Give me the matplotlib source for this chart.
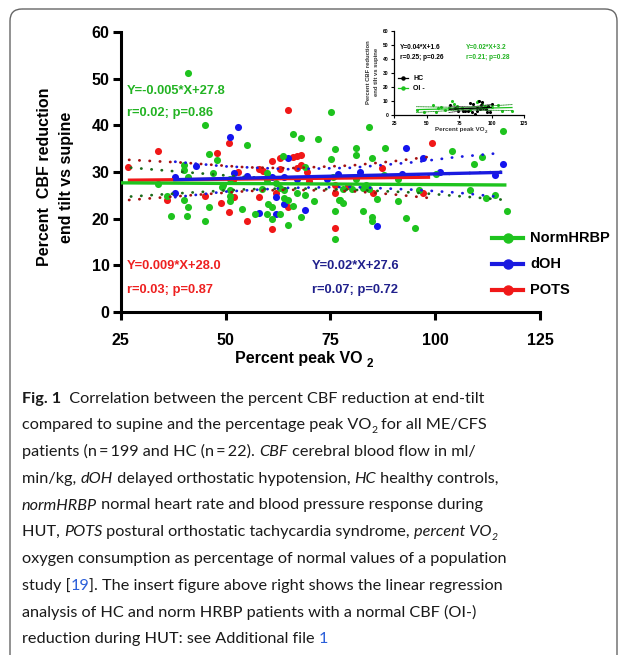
import matplotlib
matplotlib.use('Agg')
import matplotlib.pyplot as plt
from matplotlib.patches import FancyBboxPatch
from matplotlib.font_manager import FontProperties, findfont

W, H = 627, 655
CHART_FONT = 'Liberation Sans'

# caption font: a narrow sans is closest to the journal face
try:
    findfont(FontProperties(family='Liberation Sans Narrow'), fallback_to_default=False)
    CAP_FONT = 'Liberation Sans Narrow'
except Exception:
    CAP_FONT = 'Lato'

# NormHRBP patients (green)
norm_x = [41.0, 45.0, 55.1, 46.0, 48.0, 40.0, 66.0, 68.1, 72.0, 75.1, 84.1, 76.1,
          81.1, 81.1, 75.1, 85.0, 88.1, 63.8, 69.0, 116.2, 104.1, 109.2, 111.2, 100.2,
          91.1, 96.2, 108.2, 112.2, 114.2, 91.1, 117.2, 93.1, 95.1, 75.6, 78.0, 77.3,
          78.1, 82.9, 84.1, 86.2, 82.9, 85.0, 85.0, 76.1, 76.1, 33.8, 36.9, 40.0,
          41.0, 40.0, 41.0, 40.9, 45.0, 46.0, 47.0, 49.1, 51.1, 51.1, 51.0, 51.1,
          54.0, 57.0, 49.5, 36.0, 58.8, 59.8, 59.8, 60.2, 61.0, 61.0, 63.0, 65.0,
          65.0, 66.0, 67.0, 69.0, 68.0, 71.0, 77.0, 80.1, 87.9, 62.0, 63.0, 64.0,
          64.0, 59.8, 81.2, 83.5]
norm_y = [51.3, 40.0, 35.8, 33.8, 32.6, 31.6, 38.2, 37.3, 37.1, 42.9, 39.6, 34.9,
          35.1, 33.7, 32.7, 32.9, 35.1, 33.4, 31.1, 38.7, 34.5, 31.8, 33.3, 29.6,
          28.6, 26.2, 26.1, 24.4, 25.1, 23.8, 21.6, 20.2, 17.9, 29.0, 26.4, 24.1,
          23.3, 26.5, 26.3, 24.2, 21.7, 20.3, 19.6, 21.7, 15.7, 27.4, 20.6, 30.4,
          28.9, 23.9, 22.6, 20.6, 19.4, 22.6, 29.7, 26.8, 24.9, 23.8, 26.1, 28.6,
          22.0, 21.0, 27.2, 24.9, 26.3, 29.7, 28.3, 23.1, 19.9, 22.6, 21.1, 18.6,
          24.0, 22.7, 25.4, 25.1, 20.4, 23.8, 24.0, 26.3, 29.4, 27.7, 26.5, 26.1,
          24.4, 21.0, 28.6, 27.3]

# dOH patients (blue)
doh_x = [53.0, 51.0, 42.9, 38.0, 38.0, 52.0, 55.1, 58.0, 61.0, 62.0, 62.0, 64.0,
         64.0, 65.0, 67.0, 69.0, 74.2, 76.9, 82.0, 86.1, 93.1, 97.1, 92.1, 101.1,
         114.2, 116.2]
doh_y = [39.7, 37.6, 31.3, 29.0, 25.6, 29.8, 29.1, 21.3, 28.9, 24.6, 20.9, 28.9,
         23.1, 33.1, 28.6, 21.9, 28.6, 29.5, 30.1, 18.4, 35.1, 33.1, 29.5, 29.9,
         29.4, 31.7]

# POTS patients (red)
pots_x = [26.8, 33.9, 36.0, 45.0, 49.0, 50.9, 47.9, 52.0, 50.9, 52.9, 55.1, 58.1,
          58.1, 59.0, 61.0, 63.0, 64.9, 66.0, 67.0, 68.1, 63.0, 64.9, 62.0, 61.0,
          67.0, 68.0, 69.9, 76.0, 76.1, 76.0, 79.2, 85.1, 87.2, 99.2, 97.1, 51.9,
          69.4]
pots_y = [31.0, 34.6, 24.0, 24.9, 23.3, 36.3, 34.1, 24.7, 21.5, 29.9, 19.5, 24.7,
          30.6, 30.3, 32.4, 33.1, 43.2, 33.3, 33.4, 33.7, 30.6, 22.4, 25.5, 17.7,
          30.9, 31.4, 28.1, 27.2, 25.4, 18.1, 26.9, 25.4, 30.8, 36.3, 25.5, 28.3,
          30.1]

# fitted lines as printed on the chart (slope, intercept, x range)
norm_fit = (-0.005, 27.8, 24.5, 117.0)
doh_fit = (0.02, 27.6, 37.5, 116.0)
pots_fit = (0.009, 28.0, 26.7, 98.8)

# dotted 95% bands
norm_band_x = [25, 40, 55, 66, 80, 95, 117]
norm_band_hi = [31.1, 30.0, 28.9, 28.6, 28.8, 29.3, 30.1]
norm_band_lo = [24.6, 25.5, 26.3, 26.5, 26.2, 25.6, 24.0]
doh_band_x = [38, 50, 65, 80, 95, 105, 116]
doh_band_hi = [32.2, 31.2, 30.6, 30.9, 32.1, 33.2, 34.1]
doh_band_lo = [24.6, 25.8, 26.6, 26.8, 26.2, 25.6, 24.6]
pots_band_x = [27, 40, 55, 65, 80, 90, 99]
pots_band_hi = [32.6, 32.0, 31.0, 30.8, 31.4, 32.3, 33.3]
pots_band_lo = [24.0, 24.9, 25.9, 26.2, 25.9, 25.2, 24.4]

# insert: HC and OI- normHRBP
hc_x = [67.8, 71.7, 79.4, 82.0, 83.2, 84.5, 85.8, 87.0, 88.3, 90.1, 91.7, 93.5,
        95.3, 97.3, 98.6, 99.9, 88.3, 90.9, 74.2, 78.1, 96.0, 92.2]
hc_y = [7.3, 5.0, 3.1, 3.1, 8.5, 2.1, 8.3, 0.7, 3.1, 10.2, 7.3, 5.4,
        4.5, 6.6, 2.1, 7.8, 5.4, 4.5, 3.1, 3.1, 2.1, 9.2]
oi_x = [42.2, 48.1, 54.5, 57.1, 60.9, 64.0, 69.6, 73.0, 73.5, 76.8, 88.3, 89.6,
        92.2, 94.7, 99.9, 107.6, 115.3, 67.3, 70.9, 58.8, 83.2, 105.0]
oi_y = [3.8, 2.1, 7.3, 2.1, 6.1, 3.8, 10.2, 6.6, 5.0, 5.4, 9.2, 10.2,
        7.8, 6.9, 6.1, 3.1, 3.1, 5.4, 7.8, 5.0, 3.8, 7.3]
hc_fit = (0.04, 1.6, 67.0, 100.0)
oi_fit = (0.02, 3.2, 42.0, 116.0)
hc_band_x = [67, 84, 100]
hc_band_hi = [6.6, 5.9, 7.8]
hc_band_lo = [2.0, 4.0, 3.4]
oi_band_x = [42, 78, 116]
oi_band_hi = [6.1, 5.6, 7.6]
oi_band_lo = [2.0, 3.9, 3.4]

GREEN = '#1ec31e'
BLUE = '#1414ee'
RED = '#f01818'


def box(l, t, r, b):
    return [l / W, 1 - b / H, (r - l) / W, (b - t) / H]


def fit_line(ax, fit, color, lw, z=3):
    a, b, x0, x1 = fit
    ax.plot([x0, x1], [a * x0 + b, a * x1 + b], color=color, lw=lw,
            solid_capstyle='butt', zorder=z)


def band(ax, xs, lo, hi, color, lw, dash):
    for ys in (lo, hi):
        ax.plot(xs, ys, color=color, lw=lw, ls=(0, dash),
                dash_capstyle='round', zorder=2.5)


fig = plt.figure(figsize=(W / 100, H / 100), dpi=100)
renderer = fig.canvas.get_renderer()


def advance(s, fp):
    w1 = renderer.get_text_width_height_descent(s + 'l', fp, ismath=False)[0]
    w2 = renderer.get_text_width_height_descent('l', fp, ismath=False)[0]
    return w1 - w2


# ---- main chart
ax = fig.add_axes(box(120.7, 32, 540, 312))
ax.scatter(pots_x, pots_y, s=26, color=RED, lw=0, zorder=2)
ax.scatter(doh_x, doh_y, s=26, color=BLUE, lw=0, zorder=2)
ax.scatter(norm_x, norm_y, s=26, color=GREEN, lw=0, zorder=2)
band(ax, pots_band_x, pots_band_lo, pots_band_hi, '#a51010', 2.0, (0.1, 3.6))
band(ax, doh_band_x, doh_band_lo, doh_band_hi, '#1a1ae0', 2.0, (0.1, 3.6))
band(ax, norm_band_x, norm_band_lo, norm_band_hi, '#1a6a1a', 2.0, (0.1, 3.6))
fit_line(ax, pots_fit, RED, 2.4)
fit_line(ax, doh_fit, '#1a1ae0', 2.4)
fit_line(ax, norm_fit, GREEN, 2.4)

ax.set_xlim(25, 125)
ax.set_ylim(0, 60)
ax.set_xticks([25, 50, 75, 100, 125])
ax.set_yticks(range(0, 61, 10))
for s in ('top', 'right'):
    ax.spines[s].set_visible(False)
for s in ('left', 'bottom'):
    ax.spines[s].set_linewidth(2.2)
ax.tick_params(direction='out', length=6, width=2.2, labelsize=11.5)
ax.tick_params(axis='x', pad=9)
ax.tick_params(axis='y', pad=2)
for lbl in ax.get_xticklabels() + ax.get_yticklabels():
    lbl.set_fontweight('bold')
    lbl.set_family(CHART_FONT)
ax.patch.set_alpha(0)

# ---- insert
ins = fig.add_axes(box(394.3, 30.7, 524.3, 115.3))
ins.scatter(oi_x, oi_y, s=5, color=GREEN, lw=0, zorder=2)
ins.scatter(hc_x, hc_y, s=5, color='black', lw=0, zorder=2)
band(ins, hc_band_x, hc_band_lo, hc_band_hi, '#333333', 0.6, (1, 1))
band(ins, oi_band_x, oi_band_lo, oi_band_hi, '#1a8a1a', 0.6, (1, 1))
fit_line(ins, oi_fit, GREEN, 0.9)
fit_line(ins, hc_fit, 'black', 0.9)
ins.set_xlim(25, 125)
ins.set_ylim(0, 60)
ins.set_xticks([25, 50, 75, 100, 125])
ins.set_yticks(range(0, 61, 10))
for s in ('top', 'right'):
    ins.spines[s].set_visible(False)
for s in ('left', 'bottom'):
    ins.spines[s].set_linewidth(0.9)
ins.tick_params(direction='out', length=2, width=0.8, labelsize=3.6, pad=2)
for lbl in ins.get_xticklabels() + ins.get_yticklabels():
    lbl.set_fontweight('bold')
    lbl.set_family(CHART_FONT)
ins.patch.set_alpha(0)

# ---- overlay in pixel coordinates for labels, legend, caption, frame
ov = fig.add_axes([0, 0, 1, 1])
ov.set_xlim(0, W)
ov.set_ylim(H, 0)
ov.axis('off')
ov.patch.set_alpha(0)

ov.add_patch(FancyBboxPatch((10, 9), 607, 720,
                            boxstyle='round,pad=0,rounding_size=12',
                            fc='none', ec='#666666', lw=1.0))

bold = dict(family=CHART_FONT, weight='bold')
ov.text(45, 177, 'Percent  CBF reduction', rotation=90, ha='center',
        va='center', fontsize=11.5, **bold)
ov.text(67, 177, 'end tilt vs supine', rotation=90, ha='center',
        va='center', fontsize=11.5, **bold)

xl = 'Percent peak VO'
ov.text(235, 358, xl, ha='left', va='center', fontsize=11.5, **bold)
xl_end = 235 + advance(xl, FontProperties(family=CHART_FONT, weight='bold', size=11.5))
ov.text(xl_end + 4, 364, '2', ha='left', va='center', fontsize=8.5, **bold)

ov.text(126.7, 91, 'Y=-0.005*X+27.8', color='#22b322', fontsize=9.3,
        va='center', **bold)
ov.text(126.7, 113, 'r=0.02; p=0.86', color='#22b322', fontsize=9.3,
        va='center', **bold)
ov.text(126.7, 266, 'Y=0.009*X+28.0', color='#ee2020', fontsize=9.3,
        va='center', **bold)
ov.text(126.7, 290, 'r=0.03; p=0.87', color='#ee2020', fontsize=9.3,
        va='center', **bold)
ov.text(311.7, 266, 'Y=0.02*X+27.6', color='#20208c', fontsize=9.3,
        va='center', **bold)
ov.text(311.7, 290, 'r=0.07; p=0.72', color='#20208c', fontsize=9.3,
        va='center', **bold)

# main legend
for yy, col, name in [(238, GREEN, 'NormHRBP'), (263.5, '#1a1ae0', 'dOH'),
                      (289.5, RED, 'POTS')]:
    ov.plot([492, 523], [yy, yy], color=col, lw=3)
    ov.plot([507.5], [yy], 'o', color=col, ms=6.5)
    ov.text(530, yy, name, fontsize=10.5, va='center', **bold)

# insert labels
ov.text(368.3, 72, 'Percent CBF reduction', rotation=90, ha='center',
        va='center', fontsize=4.2, color='#333333', **bold)
ov.text(376.5, 72, 'end tilt vs supine', rotation=90, ha='center',
        va='center', fontsize=4.2, color='#333333', **bold)
ixl = 'Percent peak VO'
ov.text(435, 130, ixl, fontsize=4.5, va='center', color='#333333', **bold)
ixl_end = 435 + advance(ixl, FontProperties(family=CHART_FONT, weight='bold', size=4.5))
ov.text(ixl_end + 0.5, 131.8, '2', fontsize=3.2, va='center', color='#333333', **bold)
ov.text(400, 47.3, 'Y=0.04*X+1.6', fontsize=4.7, va='center', **bold)
ov.text(400, 57.7, 'r=0.25; p=0.26', fontsize=4.7, va='center', **bold)
ov.text(466, 47.3, 'Y=0.02*X+3.2', fontsize=4.7, va='center',
        color='#22b322', **bold)
ov.text(466, 57.7, 'r=0.21; p=0.28', fontsize=4.7, va='center',
        color='#22b322', **bold)
for yy, col, name in [(78.3, 'black', 'HC'), (88.3, GREEN, 'OI -')]:
    ov.plot([398, 408], [yy, yy], color=col, lw=0.9)
    ov.plot([403], [yy], 'o', color=col, ms=2.2)
    ov.text(413, yy, name, fontsize=5, va='center', **bold)


# ---- caption
def props(flags, size):
    return FontProperties(family=CAP_FONT, size=size * (0.64 if 's' in flags else 1),
                          weight='bold' if 'b' in flags else 'normal',
                          style='italic' if 'i' in flags else 'normal')


caption = [
    [('Fig. 1', 'b'), ('  Correlation between the percent CBF reduction at end-tilt', '')],
    [('compared to supine and the percentage peak VO', ''), ('2', 's'), (' for all ME/CFS', '')],
    [('patients (n\u2009=\u2009199 and HC (n\u2009=\u200922). ', ''), ('CBF', 'i'),
     (' cerebral blood flow in ml/', '')],
    [('min/kg, ', ''), ('dOH', 'i'), (' delayed orthostatic hypotension, ', ''),
     ('HC', 'i'), (' healthy controls,', '')],
    [('normHRBP', 'i'), (' normal heart rate and blood pressure response during', '')],
    [('HUT, ', ''), ('POTS', 'i'), (' postural orthostatic tachycardia syndrome, ', ''),
     ('percent VO', 'i'), ('2', 'is')],
    [('oxygen consumption as percentage of normal values of a population', '')],
    [('study [', ''), ('19', 'l'), (']. The insert figure above right shows the linear regression', '')],
    [('analysis of HC and norm HRBP patients with a normal CBF (OI-)', '')],
    [('reduction during HUT: see Additional file ', ''), ('1', 'l')],
]

ref = caption[6][0][0]
cap_size = 10.0 * 488.0 / advance(ref, props('', 10.0))

for i, line in enumerate(caption):
    x = 22.0
    y = 402.5 + 26.75 * i
    for text, flags in line:
        fp = props(flags, cap_size)
        ov.text(x, y + (4 if 's' in flags else 0), text, fontproperties=fp,
                va='baseline', ha='left',
                color='#2b5fd9' if 'l' in flags else '#1a1a1a')
        x += advance(text, fp)

fig.savefig('out.png', dpi=100)
